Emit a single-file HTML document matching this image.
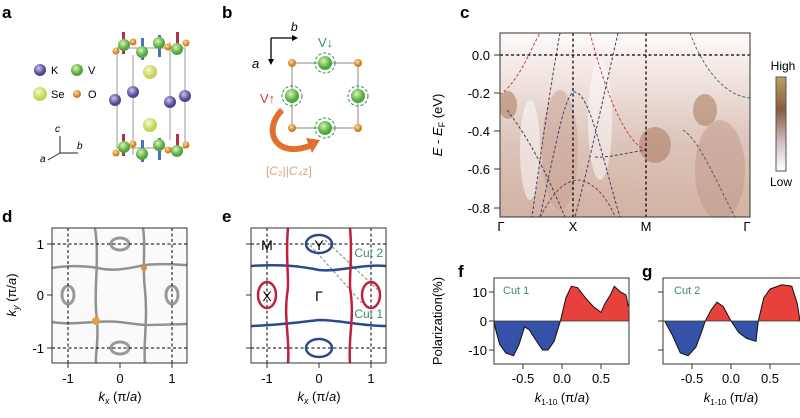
<!DOCTYPE html>
<html><head><meta charset="utf-8"><style>
body{margin:0;background:#fff}
svg{display:block;font-family:"Liberation Sans",sans-serif}
.L{font-weight:bold;font-size:17px}
.t{font-size:13px}
</style></head><body>
<svg width="800" height="418" viewBox="0 0 800 418">
<defs>
<radialGradient id="gV" cx="40%" cy="35%"><stop offset="0" stop-color="#d8f5b0"/><stop offset="1" stop-color="#4fa63a"/></radialGradient>
<radialGradient id="gK" cx="40%" cy="35%"><stop offset="0" stop-color="#c8c4f0"/><stop offset="1" stop-color="#4d468f"/></radialGradient>
<radialGradient id="gS" cx="40%" cy="35%"><stop offset="0" stop-color="#f6fbc8"/><stop offset="1" stop-color="#c4d35a"/></radialGradient>
<radialGradient id="gO" cx="40%" cy="35%"><stop offset="0" stop-color="#fde0a0"/><stop offset="1" stop-color="#d27a1c"/></radialGradient>
<linearGradient id="hm" x1="0" y1="0" x2="0" y2="1"><stop offset="0" stop-color="#fdfbfa"/><stop offset="0.2" stop-color="#f3e8e4"/><stop offset="0.6" stop-color="#ddc4ba"/><stop offset="1" stop-color="#d2b2a2"/></linearGradient>
<linearGradient id="cb" x1="0" y1="0" x2="0" y2="1"><stop offset="0" stop-color="#b8a45a"/><stop offset="0.35" stop-color="#8a5a40"/><stop offset="0.7" stop-color="#d4c0c4"/><stop offset="1" stop-color="#ffffff"/></linearGradient>
<clipPath id="up"><rect x="0" y="0" width="800" height="321"/></clipPath>
<clipPath id="dn"><rect x="0" y="321" width="800" height="100"/></clipPath>
<clipPath id="cc"><rect x="500" y="33" width="250" height="184"/></clipPath>
<polygon id="c1" points="494,321 495.7,329.7 499.6,344.2 505.8,352.9 513.6,355.8 519.1,344.2 524.6,326.8 529.2,329.7 534.7,338.4 542.5,350 548,350 554.2,341.3 560.4,321 565.9,297.8 571.4,286.2 577.6,287.7 585.4,297.8 593.2,306.5 601,312.3 604.9,303.6 610.4,294.9 614.3,286.2 620.5,292 626,294.9 628.3,306.5 629,321"/>
<polygon id="c2" points="663,321 664.7,321 672.5,335.5 680.3,352.9 688.1,355.8 695.9,347.1 701.4,332.6 705.3,321 711.5,309.4 717,302.2 723.2,306.5 731,321 738.8,332.6 746.6,338.4 756,341.3 758.3,321 763.8,297.8 770,289.1 781.7,284.8 791.8,286.2 797.3,303.6 800,321"/>
</defs>

<text class="L" x="2" y="18">a</text><text class="L" x="222" y="18">b</text><text class="L" x="460" y="18">c</text>
<text class="L" x="2" y="222">d</text><text class="L" x="222" y="222">e</text><text class="L" x="458" y="277">f</text><text class="L" x="642" y="277">g</text>

<!-- panel a -->
<circle cx="40" cy="70" r="6" fill="url(#gK)"/><text x="51" y="74" font-size="11">K</text>
<circle cx="77" cy="70" r="6" fill="url(#gV)"/><text x="88" y="74" font-size="11">V</text>
<circle cx="40" cy="94" r="7" fill="url(#gS)"/><text x="51" y="98" font-size="11">Se</text>
<circle cx="77" cy="94" r="4" fill="url(#gO)"/><text x="88" y="98" font-size="11">O</text>
<g stroke="#222" stroke-width="1"><line x1="60" y1="153" x2="60" y2="136"/><line x1="60" y1="153" x2="78" y2="153"/><line x1="60" y1="153" x2="48" y2="160"/></g>
<text x="55" y="132" font-size="10" font-style="italic">c</text><text x="77" y="149" font-size="10" font-style="italic">b</text><text x="40" y="162" font-size="10" font-style="italic">a</text>
<g stroke="#999" stroke-width="1" fill="none"><rect x="117" y="48" width="68" height="100"/><line x1="133" y1="55" x2="133" y2="155"/><line x1="170" y1="42" x2="170" y2="140"/></g>
<g fill="#b03050"><rect x="122" y="32" width="3" height="22"/><rect x="176" y="32" width="3" height="22"/><rect x="122" y="134" width="3" height="22"/><rect x="176" y="134" width="3" height="22"/></g>
<g fill="#4a70c0"><rect x="141" y="38" width="3" height="22"/><rect x="158" y="35" width="3" height="22"/><rect x="141" y="140" width="3" height="22"/><rect x="158" y="138" width="3" height="22"/></g>
<circle cx="150" cy="72" r="7" fill="url(#gS)"/><circle cx="150" cy="125" r="7" fill="url(#gS)"/>
<circle cx="115" cy="100" r="6" fill="url(#gK)"/><circle cx="133" cy="92" r="6" fill="url(#gK)"/><circle cx="170" cy="102" r="6" fill="url(#gK)"/><circle cx="185" cy="96" r="6" fill="url(#gK)"/>
<g fill="url(#gV)"><circle cx="124" cy="45" r="6"/><circle cx="142" cy="52" r="6"/><circle cx="159" cy="43" r="6"/><circle cx="177" cy="49" r="6"/><circle cx="124" cy="147" r="6"/><circle cx="142" cy="154" r="6"/><circle cx="159" cy="145" r="6"/><circle cx="177" cy="151" r="6"/></g>
<g fill="url(#gO)"><circle cx="116" cy="51" r="3.5"/><circle cx="133" cy="42" r="3.5"/><circle cx="168" cy="47" r="3.5"/><circle cx="186" cy="43" r="3.5"/><circle cx="116" cy="153" r="3.5"/><circle cx="133" cy="144" r="3.5"/><circle cx="168" cy="150" r="3.5"/><circle cx="186" cy="145" r="3.5"/></g>

<!-- panel b -->
<g stroke="#000" stroke-width="1.3"><line x1="271" y1="38" x2="296" y2="38"/><line x1="271" y1="38" x2="271" y2="62"/></g>
<polygon points="298,38 292,35 292,41"/><polygon points="271,65 268,59 274,59"/>
<text x="291" y="31" font-size="12" font-style="italic">b</text><text x="252" y="68" font-size="13" font-style="italic">a</text>
<rect x="292" y="63" width="66" height="65" fill="none" stroke="#888"/>
<g fill="url(#gO)"><circle cx="292" cy="63" r="4"/><circle cx="358" cy="63" r="4"/><circle cx="292" cy="128" r="4"/><circle cx="358" cy="128" r="4"/></g>
<g fill="url(#gV)"><circle cx="325" cy="63" r="7"/><circle cx="292" cy="96" r="7"/><circle cx="358" cy="96" r="7"/><circle cx="325" cy="128" r="7"/></g>
<g fill="none" stroke="#3a8a50" stroke-dasharray="3,2"><circle cx="325" cy="63" r="10"/><circle cx="292" cy="96" r="10"/><circle cx="358" cy="96" r="10"/><circle cx="325" cy="128" r="10"/></g>
<text x="318" y="47" font-size="13" fill="#3a8a70">V↓</text><text x="260" y="103" font-size="13" fill="#d04040">V↑</text>
<path d="M282,110 C262,130 275,160 312,145" fill="none" stroke="#e07030" stroke-width="6"/>
<polygon points="320,140 306,138 312,153" fill="#e07030"/>
<text x="266" y="175" font-size="12" fill="#d8a888">[<tspan font-style="italic">C</tspan>₂||<tspan font-style="italic">C</tspan>₄z]</text>

<!-- panel c -->
<rect x="500" y="33" width="250" height="184" fill="url(#hm)"/>
<g clip-path="url(#cc)" opacity="0.5">
<ellipse cx="508" cy="105" rx="9" ry="14" fill="#a07050"/>
<ellipse cx="655" cy="145" rx="16" ry="18" fill="#a87058"/>
<ellipse cx="705" cy="110" rx="12" ry="16" fill="#a07050"/>
<ellipse cx="560" cy="150" rx="18" ry="60" fill="#c8a090"/>
<ellipse cx="720" cy="170" rx="25" ry="50" fill="#c09888"/>
<ellipse cx="600" cy="120" rx="12" ry="60" fill="#fff"/>
<ellipse cx="530" cy="150" rx="10" ry="50" fill="#fff"/>
</g>
<g clip-path="url(#cc)" fill="none" stroke-dasharray="3,2" stroke-width="1">
<path d="M500,95 C520,80 530,50 540,33" stroke="#c04050"/>
<path d="M507,110 C530,140 545,170 565,217" stroke="#404060"/>
<path d="M560,33 C548,100 540,160 532,217" stroke="#404060"/>
<path d="M590,33 C600,70 620,140 646,150" stroke="#c04050"/>
<path d="M618,33 C605,90 590,160 575,217" stroke="#404060"/>
<path d="M540,217 C555,150 565,90 575,92 C590,95 600,150 620,217" stroke="#404070"/>
<path d="M595,157 C610,158 630,152 646,150" stroke="#404060"/>
<path d="M540,217 C550,200 560,180 580,180 C600,185 610,205 615,217" stroke="#804050"/>
<path d="M690,33 C700,60 720,95 750,98" stroke="#507070"/>
<path d="M683,130 C700,140 720,190 735,217" stroke="#506060"/>
</g>
<g stroke="#000" stroke-dasharray="3,2.5" stroke-width="1.2"><line x1="500" y1="55" x2="750" y2="55"/><line x1="573" y1="33" x2="573" y2="217"/><line x1="646" y1="33" x2="646" y2="217"/></g>
<rect x="500" y="33" width="250" height="184" fill="none" stroke="#333"/>
<g font-size="13" text-anchor="end"><text x="490" y="60">0.0</text><text x="490" y="98">-0.2</text><text x="490" y="136">-0.4</text><text x="490" y="174">-0.6</text><text x="490" y="213">-0.8</text></g>
<g stroke="#333"><line x1="494" y1="55" x2="500" y2="55"/><line x1="494" y1="93" x2="500" y2="93"/><line x1="494" y1="131" x2="500" y2="131"/><line x1="494" y1="169" x2="500" y2="169"/><line x1="494" y1="208" x2="500" y2="208"/></g>
<text transform="translate(442,125) rotate(-90)" font-size="13" text-anchor="middle"><tspan font-style="italic">E</tspan> - <tspan font-style="italic">E</tspan><tspan font-size="9" dy="3">F</tspan><tspan dy="-3"> (eV)</tspan></text>
<g font-size="13" text-anchor="middle"><text x="501" y="231">Γ</text><text x="573" y="231">X</text><text x="646" y="231">M</text><text x="747" y="231">Γ</text></g>
<rect x="776" y="77" width="10" height="94" fill="url(#cb)" stroke="#555"/>
<text x="783" y="70" font-size="12" text-anchor="middle">High</text><text x="781" y="186" font-size="12" text-anchor="middle">Low</text>

<!-- panel d -->
<rect x="52" y="228" width="135" height="135" fill="#fafafa"/>
<g fill="none" stroke="#777" stroke-width="2.5" opacity="0.8">
<path d="M52,268 C70,265 85,266 98,268 C115,272 130,268 145,265 C165,263 180,265 187,265"/>
<path d="M52,322 C70,325 85,322 98,322 C115,320 130,324 145,325 C165,325 180,324 187,324"/>
<path d="M95,228 C100,260 93,290 97,320 C99,340 95,355 96,363"/>
<path d="M143,228 C146,245 142,265 145,290 C148,320 143,345 145,363"/>
</g>
<g fill="none" stroke="#999" stroke-width="3"><ellipse cx="68" cy="295" rx="6" ry="9"/><ellipse cx="172" cy="295" rx="6" ry="9"/><ellipse cx="120" cy="244" rx="9" ry="6"/><ellipse cx="120" cy="348" rx="9" ry="6"/></g>
<circle cx="144" cy="268" r="3" fill="#e08a40"/><circle cx="96" cy="321" r="4" fill="#e0a050"/>
<g stroke="#000" stroke-dasharray="3,2.5"><line x1="68" y1="228" x2="68" y2="363"/><line x1="172" y1="228" x2="172" y2="363"/><line x1="52" y1="244" x2="187" y2="244"/><line x1="52" y1="348" x2="187" y2="348"/></g>
<rect x="52" y="228" width="135" height="135" fill="none" stroke="#333"/>
<g stroke="#333"><line x1="68" y1="363" x2="68" y2="368"/><line x1="120" y1="363" x2="120" y2="368"/><line x1="172" y1="363" x2="172" y2="368"/><line x1="47" y1="244" x2="52" y2="244"/><line x1="47" y1="295" x2="52" y2="295"/><line x1="47" y1="348" x2="52" y2="348"/></g>
<g font-size="13" text-anchor="middle"><text x="68" y="383">-1</text><text x="120" y="383">0</text><text x="172" y="383">1</text></g>
<g font-size="13" text-anchor="end"><text x="44" y="249">1</text><text x="44" y="300">0</text><text x="44" y="353">-1</text></g>
<text x="120" y="401" font-size="13" text-anchor="middle"><tspan font-style="italic">k</tspan><tspan font-size="9" dy="3" font-style="italic">x</tspan><tspan dy="-3"> (π/<tspan font-style="italic">a</tspan>)</tspan></text>
<text transform="translate(16,295) rotate(-90)" font-size="13" text-anchor="middle"><tspan font-style="italic">k</tspan><tspan font-size="9" dy="3" font-style="italic">y</tspan><tspan dy="-3"> (π/<tspan font-style="italic">a</tspan>)</tspan></text>

<!-- panel e -->
<g stroke="#000" stroke-dasharray="3,2.5"><line x1="267" y1="228" x2="267" y2="363"/><line x1="371" y1="228" x2="371" y2="363"/><line x1="251" y1="244" x2="386" y2="244"/><line x1="251" y1="348" x2="386" y2="348"/></g>
<g stroke="#8aa080" stroke-dasharray="3,2" stroke-width="1.2"><line x1="325" y1="240" x2="378" y2="290"/><line x1="310" y1="245" x2="362" y2="303"/></g>
<g fill="none" stroke="#2a4a90" stroke-width="2.5"><path d="M251,266 C280,264 300,266 319,270 C340,272 360,264 386,266"/><path d="M251,326 C280,325 300,322 319,320 C340,320 360,326 386,326"/><ellipse cx="319" cy="244" rx="13" ry="9"/><ellipse cx="319" cy="348" rx="13" ry="9"/></g>
<g fill="none" stroke="#c02040" stroke-width="2.5"><path d="M288,228 C285,260 290,280 287,295 C284,320 290,340 288,363"/><path d="M350,228 C353,260 348,280 351,295 C354,320 348,340 350,363"/><ellipse cx="267" cy="295" rx="9" ry="13"/><ellipse cx="371" cy="295" rx="9" ry="13"/></g>
<rect x="251" y="228" width="135" height="135" fill="none" stroke="#333"/>
<g font-size="14" text-anchor="middle"><text x="267" y="250">M</text><text x="319" y="250">Y</text><text x="267" y="301">X</text><text x="319" y="301">Γ</text></g>
<text x="383" y="257" font-size="12" fill="#3a9060" text-anchor="end">Cut 2</text><text x="383" y="318" font-size="12" fill="#3a9060" text-anchor="end">Cut 1</text>
<g stroke="#333"><line x1="267" y1="363" x2="267" y2="368"/><line x1="319" y1="363" x2="319" y2="368"/><line x1="371" y1="363" x2="371" y2="368"/><line x1="246" y1="244" x2="251" y2="244"/><line x1="246" y1="295" x2="251" y2="295"/><line x1="246" y1="348" x2="251" y2="348"/></g>
<g font-size="13" text-anchor="middle"><text x="267" y="383">-1</text><text x="319" y="383">0</text><text x="371" y="383">1</text></g>
<text x="319" y="401" font-size="13" text-anchor="middle"><tspan font-style="italic">k</tspan><tspan font-size="9" dy="3" font-style="italic">x</tspan><tspan dy="-3"> (π/<tspan font-style="italic">a</tspan>)</tspan></text>

<!-- panel f -->
<use href="#c1" fill="#e8403a" clip-path="url(#up)"/>
<use href="#c1" fill="#3552a8" clip-path="url(#dn)"/>
<polyline points="494,321 495.7,329.7 499.6,344.2 505.8,352.9 513.6,355.8 519.1,344.2 524.6,326.8 529.2,329.7 534.7,338.4 542.5,350 548,350 554.2,341.3 560.4,321 565.9,297.8 571.4,286.2 577.6,287.7 585.4,297.8 593.2,306.5 601,312.3 604.9,303.6 610.4,294.9 614.3,286.2 620.5,292 626,294.9 628.3,306.5" fill="none" stroke="#111" stroke-width="1"/>
<line x1="494" y1="321" x2="629" y2="321" stroke="#333" stroke-width="0.8"/>
<rect x="494" y="278" width="135" height="86" fill="none" stroke="#333"/>
<text x="503" y="294" font-size="11" fill="#3a9060">Cut 1</text>
<g font-size="13" text-anchor="end"><text x="487" y="297">10</text><text x="487" y="326">0</text><text x="487" y="355">-10</text></g>
<g stroke="#333"><line x1="489" y1="292" x2="494" y2="292"/><line x1="489" y1="321" x2="494" y2="321"/><line x1="489" y1="350" x2="494" y2="350"/><line x1="523" y1="364" x2="523" y2="369"/><line x1="562" y1="364" x2="562" y2="369"/><line x1="601" y1="364" x2="601" y2="369"/></g>
<g font-size="13" text-anchor="middle"><text x="523" y="383">-0.5</text><text x="562" y="383">0.0</text><text x="601" y="383">0.5</text></g>
<text x="562" y="402" font-size="13" text-anchor="middle"><tspan font-style="italic">k</tspan><tspan font-size="8" dy="3">1-10</tspan><tspan dy="-3"> (π/<tspan font-style="italic">a</tspan>)</tspan></text>
<text transform="translate(442,321) rotate(-90)" font-size="13" text-anchor="middle">Polarization(%)</text>

<!-- panel g -->
<use href="#c2" fill="#e8403a" clip-path="url(#up)"/>
<use href="#c2" fill="#3552a8" clip-path="url(#dn)"/>
<polyline points="664.7,321 672.5,335.5 680.3,352.9 688.1,355.8 695.9,347.1 701.4,332.6 705.3,321 711.5,309.4 717,302.2 723.2,306.5 731,321 738.8,332.6 746.6,338.4 756,341.3 758.3,321 763.8,297.8 770,289.1 781.7,284.8 791.8,286.2 797.3,303.6 800,321" fill="none" stroke="#111" stroke-width="1"/>
<line x1="663" y1="321" x2="800" y2="321" stroke="#333" stroke-width="0.8"/>
<rect x="663" y="278" width="140" height="86" fill="none" stroke="#333"/>
<text x="674" y="294" font-size="11" fill="#3a9060">Cut 2</text>
<g stroke="#333"><line x1="658" y1="292" x2="663" y2="292"/><line x1="658" y1="321" x2="663" y2="321"/><line x1="658" y1="350" x2="663" y2="350"/><line x1="692" y1="364" x2="692" y2="369"/><line x1="731" y1="364" x2="731" y2="369"/><line x1="770" y1="364" x2="770" y2="369"/></g>
<g font-size="13" text-anchor="middle"><text x="692" y="383">-0.5</text><text x="731" y="383">0.0</text><text x="770" y="383">0.5</text></g>
<text x="731" y="402" font-size="13" text-anchor="middle"><tspan font-style="italic">k</tspan><tspan font-size="8" dy="3">1-10</tspan><tspan dy="-3"> (π/<tspan font-style="italic">a</tspan>)</tspan></text>
</svg>
</body></html>
